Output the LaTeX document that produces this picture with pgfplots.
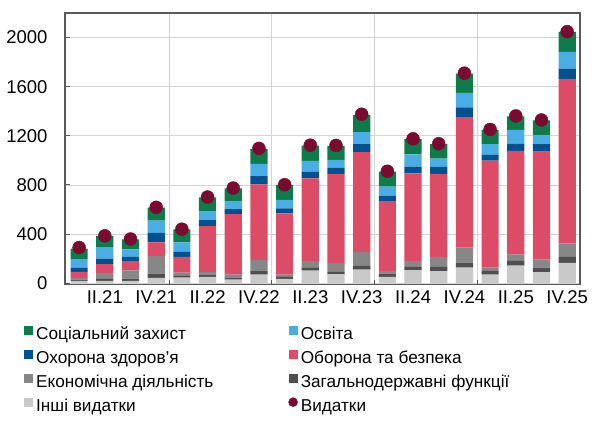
\documentclass[border=0pt]{standalone}
\usepackage{fontspec}
\setmainfont{Liberation Sans}
\usepackage{pgfplots}
\usepackage{pgfplotstable}
\pgfplotsset{compat=1.18}
\definecolor{socc}{HTML}{0E7C4A}
\definecolor{educ}{HTML}{4AAEE4}
\definecolor{heac}{HTML}{00518F}
\definecolor{defc}{HTML}{DC4C67}
\definecolor{ecoc}{HTML}{878787}
\definecolor{genc}{HTML}{4F4F4F}
\definecolor{othc}{HTML}{C9C9C9}
\definecolor{dotc}{HTML}{7B0A31}
\definecolor{framec}{HTML}{5A5A5A}
\definecolor{gridc}{HTML}{D4D4D4}
\pgfplotstableread{
idx other general econ defense health edu social total
0 19 11 14 48 33 71 87 291
1 19 16 49 71 46 90 93 386
2 19 19 68 74 35 60 82 360
3 44 35 144 109 79 98 106 618
4 46 14 27 128 41 76 106 440
5 52 19 21 373 49 74 112 702
6 30 16 25 492 41 65 104 775
7 71 27 90 618 67 98 123 1098
8 35 17 19 498 40 69 122 802
9 103 22 55 674 52 90 125 1124
10 73 19 74 724 51 63 114 1122
11 112 29 115 811 65 98 141 1376
12 52 27 19 571 44 73 123 912
13 106 27 47 715 54 101 123 1176
14 98 35 79 678 57 68 117 1136
15 128 41 122 1062 78 118 157 1710
16 71 35 22 870 47 87 117 1252
17 144 38 52 844 57 114 109 1362
18 90 38 65 879 60 76 117 1329
19 166 49 109 1339 84 136 163 2048
}\datatable
\newcommand{\fnt}{\fontsize{17.2bp}{20bp}\selectfont}
\newcommand{\tfnt}{\fontsize{18.5bp}{22bp}\selectfont}
\pgfplotsset{
  common/.style={
    scale only axis, width=515bp, height=271.5bp,
    xmin=-0.55, xmax=19.5, ymin=-10, ymax=2200,
  },
}
\begin{document}
\begin{tikzpicture}
\begin{axis}[
  common,
  ybar stacked, bar width=0.67,
  axis line style={draw=framec, line width=1.5bp},
  ytick={0,400,...,2000},
  ytick pos=left, xtick pos=lower, tick align=inside,
  major tick length=5bp,
  tick style={draw=framec, line width=1bp},
  ymajorgrids, xmajorgrids,
  major grid style={draw=gridc, line width=0.8bp},
  xtick={3.5,7.5,11.5,15.5}, xticklabels={},
  extra x ticks={1,3,5,7,9,11,13,15,17,19},
  extra x tick labels={II.21,IV.21,II.22,IV.22,II.23,IV.23,II.24,IV.24,II.25,IV.25},
  extra x tick style={grid=none, major tick length=0pt},
  tick label style={font=\tfnt, text=black},
  yticklabel style={xshift=-14bp},
  xticklabel style={yshift=-3bp},
  /pgf/number format/assume math mode=true,
  /pgf/number format/1000 sep={},
  legend columns=2,
  legend cell align=left,
  legend style={font=\fnt, draw=none, fill=none, inner sep=0pt,
    at={(axis description cs:0,0)}, anchor=north west,
    xshift=-41bp, yshift=-41.5bp,
    row sep=6.5bp,
    nodes={inner sep=0pt, text height=12bp, text depth=3.5bp},
    /tikz/every odd column/.append style={column sep=3bp},
    /tikz/every even column/.append style={column sep=75bp}},
  legend image code/.code={\fill[#1, draw=none] (0bp,0.5bp) rectangle (9bp,9.5bp);},
]
\addlegendimage{fill=socc, draw=none}\addlegendentry{Соціальний захист}
\addlegendimage{fill=educ, draw=none}\addlegendentry{Освіта}
\addlegendimage{fill=heac, draw=none}\addlegendentry{Охорона здоров'я}
\addlegendimage{fill=defc, draw=none}\addlegendentry{Оборона та безпека}
\addlegendimage{fill=ecoc, draw=none}\addlegendentry{Економічна діяльність}
\addlegendimage{fill=genc, draw=none}\addlegendentry{Загальнодержавні функції}
\addlegendimage{fill=othc, draw=none}\addlegendentry{Інші видатки}
\addlegendimage{legend image code/.code={\fill[dotc] (4.5bp,5bp) circle (4.5bp);}}\addlegendentry{Видатки}
\addplot[forget plot, fill=othc, draw=none] table[x=idx, y=other] {\datatable};
\addplot[forget plot, fill=genc, draw=none] table[x=idx, y=general] {\datatable};
\addplot[forget plot, fill=ecoc, draw=none] table[x=idx, y=econ] {\datatable};
\addplot[forget plot, fill=defc, draw=none] table[x=idx, y=defense] {\datatable};
\addplot[forget plot, fill=heac, draw=none] table[x=idx, y=health] {\datatable};
\addplot[forget plot, fill=educ, draw=none] table[x=idx, y=edu] {\datatable};
\addplot[forget plot, fill=socc, draw=none] table[x=idx, y=social] {\datatable};
\end{axis}
\begin{axis}[common, hide axis, clip=false]
\addplot[only marks, mark=*, mark size=6.5bp, color=dotc, fill=dotc] table[x=idx, y=total] {\datatable};
\end{axis}
\pgfresetboundingbox
\path[use as bounding box] (-65bp,-136.5bp) rectangle (531bp,284.5bp);
\end{tikzpicture}
\end{document}
